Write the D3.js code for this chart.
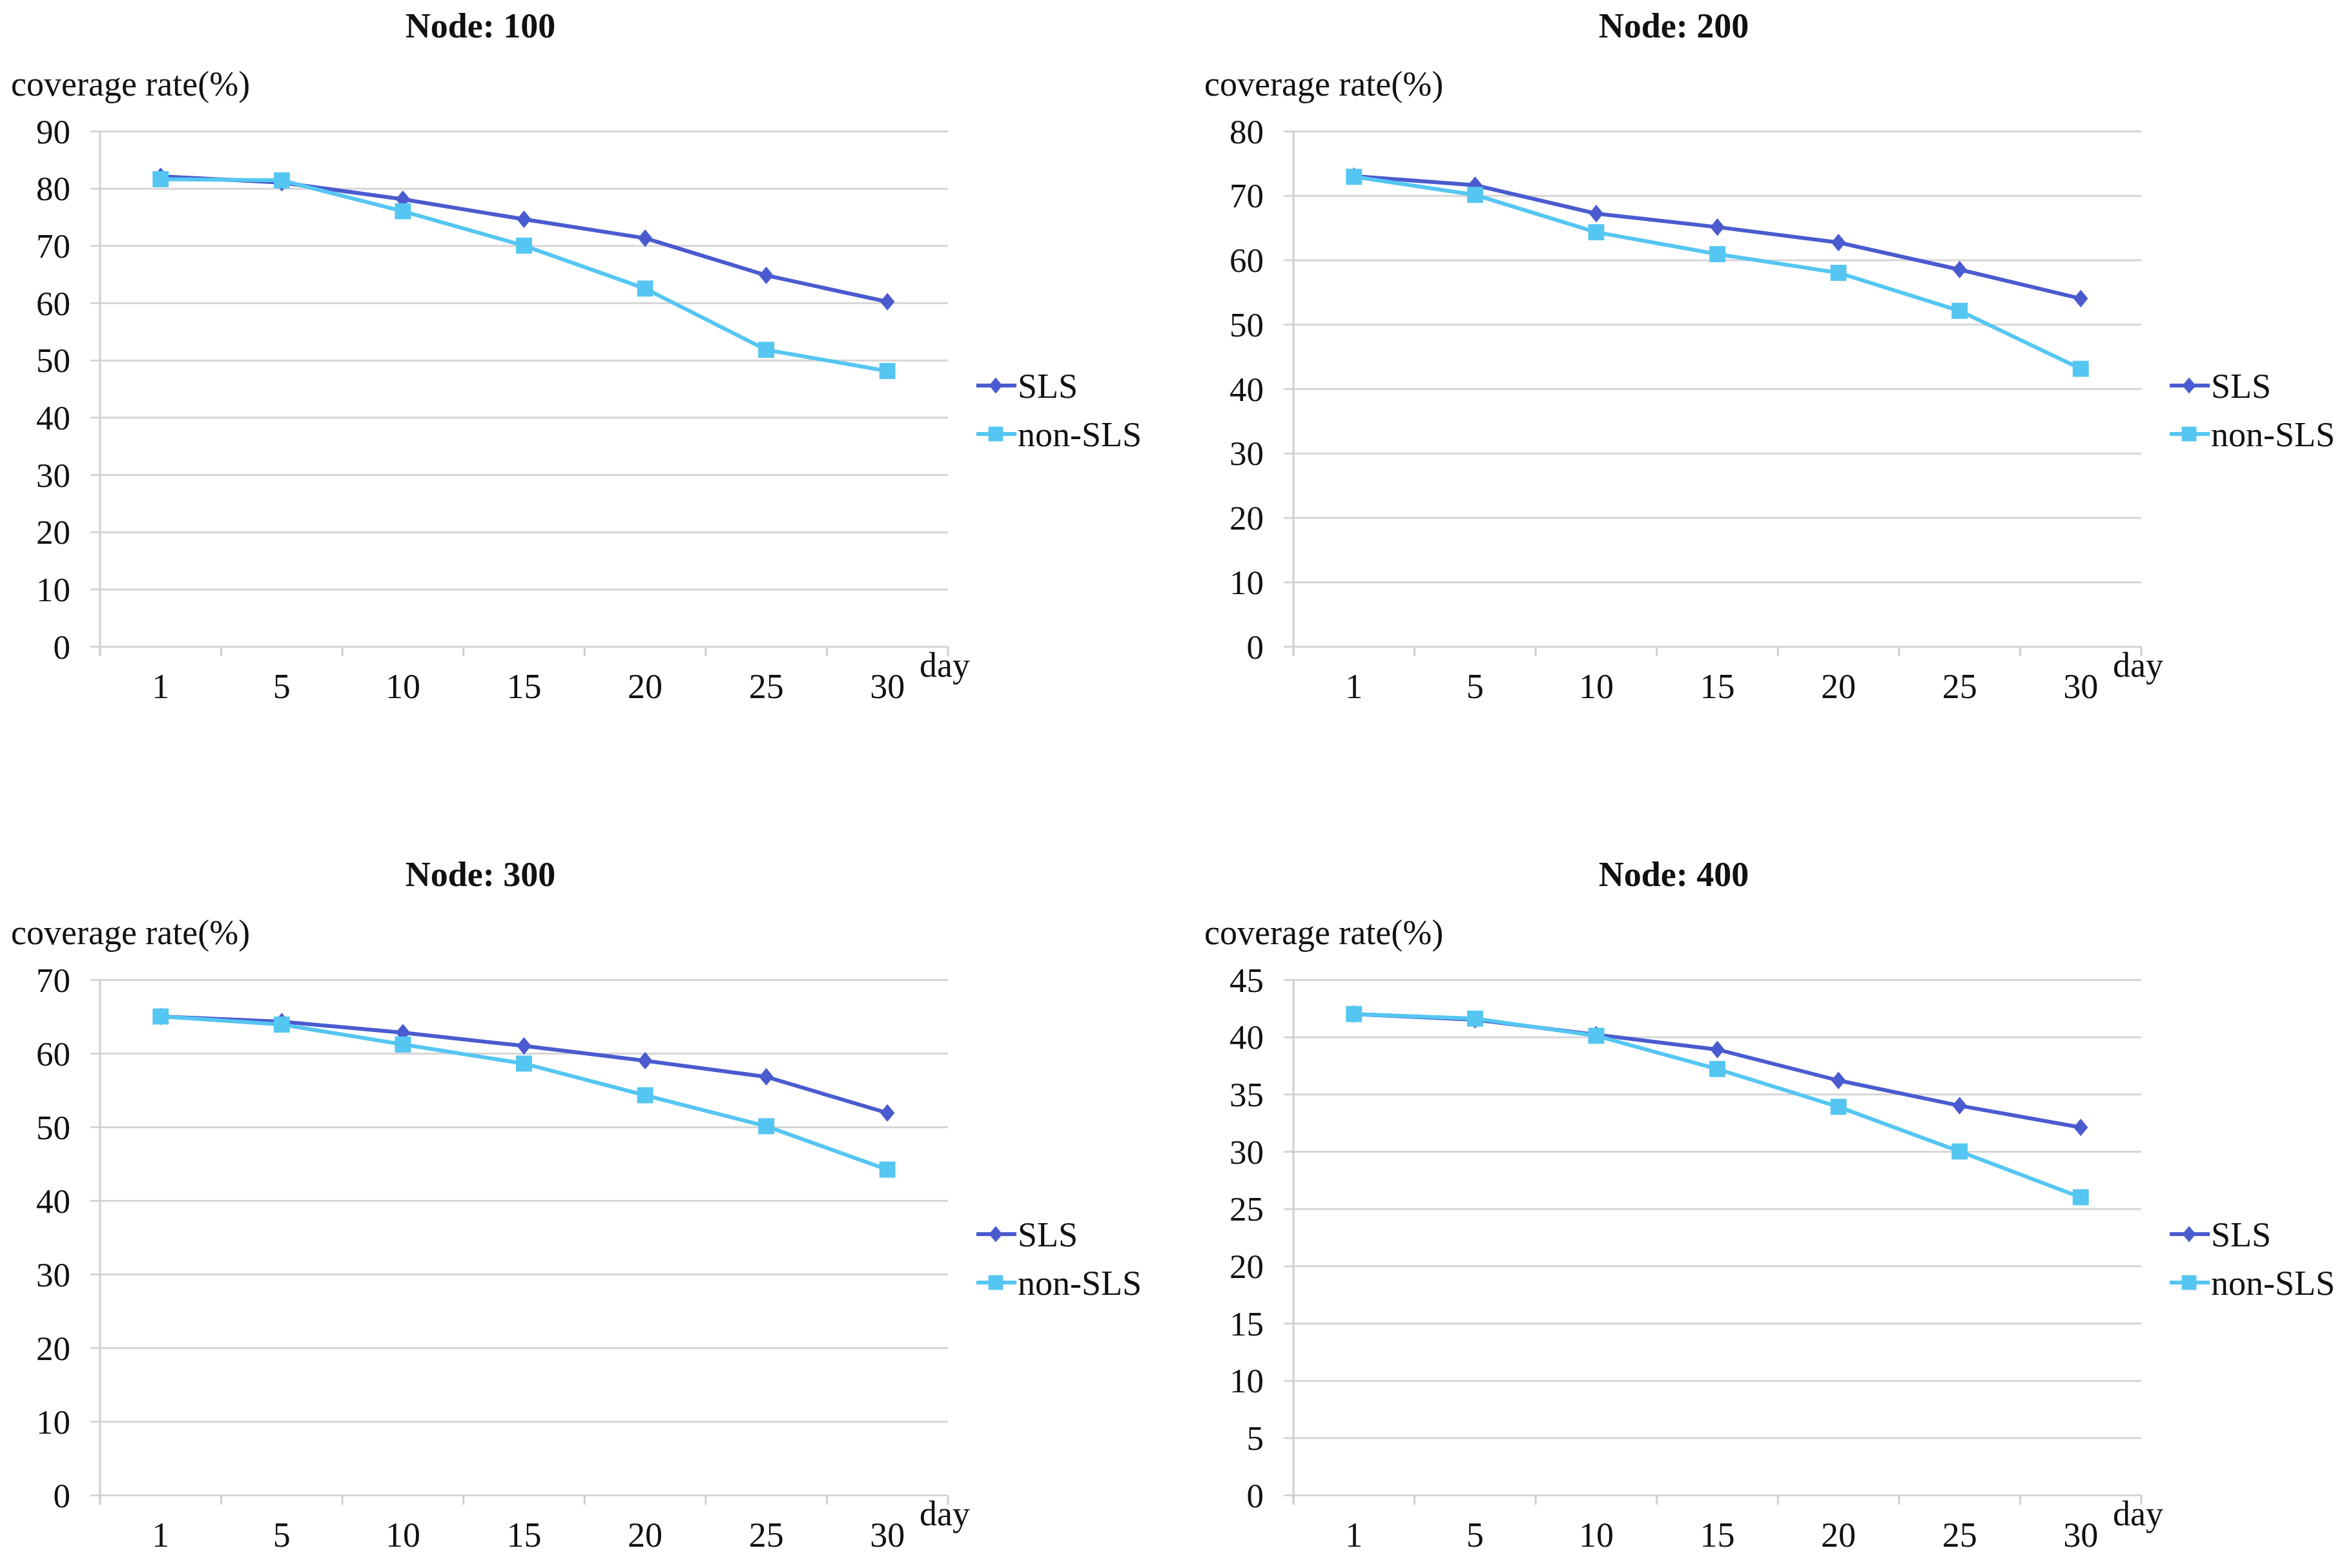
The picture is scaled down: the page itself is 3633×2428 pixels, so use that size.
<!DOCTYPE html>
<html>
<head>
<meta charset="utf-8">
<title>coverage rate</title>
<script src="https://d3js.org/d3.v7.min.js"></script>
<style>
  body { margin: 0; background: #fff; }
  text { font-family: "Liberation Serif", "Times New Roman", serif; fill: #111; }
</style>
</head>
<body>
<script>
// data
var days = ["1", "5", "10", "15", "20", "25", "30"];
var nodes = [100, 200, 300, 400];
var yMax = [90, 80, 70, 45];
var yStep = [10, 10, 10, 5];
var seriesNames = ["SLS", "non-SLS"];

var sls100 = [82.1, 81.0, 78.1, 74.6, 71.3, 64.8, 60.2];
var non100 = [81.6, 81.4, 76.0, 70.0, 62.5, 51.8, 48.1];
var sls200 = [73.0, 71.6, 67.2, 65.1, 62.7, 58.5, 54.0];
var non200 = [72.9, 70.1, 64.3, 60.9, 58.0, 52.1, 43.1];
var sls300 = [65.0, 64.3, 62.8, 61.0, 59.0, 56.8, 51.9];
var non300 = [65.0, 63.9, 61.2, 58.6, 54.3, 50.1, 44.2];
var sls400 = [42.0, 41.5, 40.2, 38.9, 36.2, 34.0, 32.1];
var non400 = [42.0, 41.6, 40.1, 37.2, 33.9, 30.0, 26.0];

var slsAll = [sls100, sls200, sls300, sls400];
var nonAll = [non100, non200, non300, non400];

var colors = ["#4a5bcf", "#55c6f2"];

var width = 3633, height = 2428;
var svg = d3.select("body").append("svg")
    .attr("width", width)
    .attr("height", height);

// panel placement
var panelLeft = [155, 2003, 155, 2003];
var panelTop = [203, 203, 1517, 1517];
var pw = 1313, ph = 798;

// wider diamond like excel's marker
var fatDiamond = {
  draw: function(context, size) {
    var r = Math.sqrt(size) / 2;
    context.moveTo(0, -r * 1.15);
    context.lineTo(r * 0.95, 0);
    context.lineTo(0, r * 1.15);
    context.lineTo(-r * 0.95, 0);
    context.closePath();
  }
};

function drawPanel(k) {
  var g = svg.append("g")
      .attr("transform", "translate(" + panelLeft[k] + "," + panelTop[k] + ")");

  var x = d3.scaleBand().domain(days).range([0, pw]);
  var y = d3.scaleLinear().domain([0, yMax[k]]).range([ph, 0]);
  var ticks = d3.range(0, yMax[k] + 0.001, yStep[k]);

  // gridlines + y labels
  var yAxis = g.append("g")
      .call(d3.axisLeft(y).tickValues(ticks).tickSize(-pw - 15).tickPadding(0))
      .attr("transform", "translate(" + (-15) + ",0)");
  yAxis.select(".domain").remove();
  yAxis.selectAll(".tick line")
      .attr("x1", 0).attr("x2", pw + 15)
      .attr("stroke", "#d6d6d6").attr("stroke-width", 3);
  yAxis.selectAll(".tick text")
      .attr("x", -31).attr("dy", "0.34em")
      .style("font-family", "Liberation Serif")
      .style("font-size", "53px").attr("fill", "#111");

  // y axis line
  g.append("line")
      .attr("x1", 0).attr("x2", 0).attr("y1", 0).attr("y2", ph + 15)
      .attr("stroke", "#cfcfcf").attr("stroke-width", 3);

  // x axis ticks between categories
  var xb = g.append("g").attr("transform", "translate(0," + ph + ")");
  var bounds = days.map(function(d) { return x(d); }).concat([pw]);
  xb.selectAll("line").data(bounds).enter().append("line")
      .attr("x1", function(d) { return d; }).attr("x2", function(d) { return d; })
      .attr("y1", 0).attr("y2", 15)
      .attr("stroke", "#cfcfcf").attr("stroke-width", 3);
  xb.selectAll("text").data(days).enter().append("text")
      .attr("x", function(d) { return x(d) + x.bandwidth() / 2; })
      .attr("y", 80)
      .attr("text-anchor", "middle")
      .style("font-size", "54px")
      .text(function(d) { return d; });

  g.append("text")
      .attr("x", pw - 44).attr("y", ph + 47)
      .style("font-size", "54px")
      .text("day");

  // title and axis caption
  g.append("text")
      .attr("x", 589).attr("y", -145)
      .attr("text-anchor", "middle")
      .style("font-size", "54px").style("font-weight", "bold")
      .text("Node: " + nodes[k]);
  g.append("text")
      .attr("x", -138).attr("y", -55)
      .style("font-size", "54px")
      .text("coverage rate(%)");

  var line = d3.line()
      .x(function(d, i) { return x(days[i]) + x.bandwidth() / 2; })
      .y(function(d) { return y(d); });

  var sets = [slsAll[k], nonAll[k]];
  sets.forEach(function(vals, s) {
    g.append("path")
        .datum(vals)
        .attr("d", line)
        .attr("fill", "none")
        .attr("stroke", colors[s])
        .attr("stroke-width", 6);
    var sym = s === 0 ? fatDiamond : d3.symbolSquare;
    var size = s === 0 ? 560 : 620;
    g.selectAll(".m" + s).data(vals).enter().append("path")
        .attr("class", "m" + s)
        .attr("d", d3.symbol().type(sym).size(size))
        .attr("transform", function(d, i) {
          return "translate(" + (x(days[i]) + x.bandwidth() / 2) + "," + y(d) + ")";
        })
        .attr("fill", colors[s]);
  });

  // legend
  var lg = g.append("g").attr("transform", "translate(1357,394)");
  seriesNames.forEach(function(name, s) {
    var row = lg.append("g").attr("transform", "translate(0," + (s * 75) + ")");
    row.append("line")
        .attr("x1", 0).attr("x2", 62).attr("y1", 0).attr("y2", 0)
        .attr("stroke", colors[s]).attr("stroke-width", 6);
    row.append("path")
        .attr("d", d3.symbol().type(s === 0 ? fatDiamond : d3.symbolSquare).size(s === 0 ? 480 : 520))
        .attr("transform", "translate(30,0)")
        .attr("fill", colors[s]);
    row.append("text")
        .attr("x", 64).attr("y", 0).attr("dy", "0.35em")
        .style("font-size", "54px")
        .text(name);
  });
}

for (var k = 0; k < 4; k++) drawPanel(k);
</script>
</body>
</html>
